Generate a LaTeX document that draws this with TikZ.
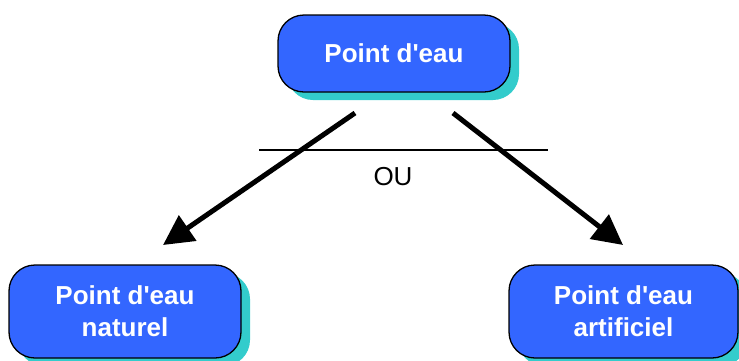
\documentclass[tikz,border=0pt]{standalone}
\usepackage{fontspec}
\setmainfont{Liberation Sans}[Ligatures=TeXOff]
\usetikzlibrary{arrows.meta,shadows}
\definecolor{boxblue}{HTML}{3366FF}
\definecolor{shadowteal}{HTML}{33CCCC}
\tikzset{
  box/.style={draw=black, line width=1.3pt, fill=boxblue, rounded corners=26pt,
    text=white, align=center, inner sep=0pt,
    font=\bfseries\fontsize{26}{32}\selectfont,
    drop shadow={shadow xshift=9pt, shadow yshift=-8pt, fill=shadowteal, opacity=1}},
  bigarrow/.style={line width=5pt, -{Triangle[length=30pt,width=30pt]}},
}
\begin{document}
\begin{tikzpicture}[x=1pt,y=-1pt]
\useasboundingbox (0,0) rectangle (739,360);
\node[box, minimum width=232pt, minimum height=77pt] (top) at (394,53.5) {Point d'eau};
\node[box, minimum width=232pt, minimum height=93pt] (nat) at (125,311.5) {Point d'eau\\naturel};
\node[box, minimum width=229pt, minimum height=93pt] (art) at (623.5,311.5) {Point d'eau\\artificiel};
\coordinate (ls) at (355,113);
\coordinate (le) at (163,245);
\coordinate (rs) at (453,113);
\coordinate (re) at (623,245);
\draw[bigarrow] (ls) -- (le);
\draw[bigarrow] (rs) -- (re);
\coordinate (h1) at (259,150);
\coordinate (h2) at (548,150);
\draw[line width=1.2pt] (h1) -- (h2);
\node[anchor=base, inner sep=0pt, font=\fontsize{26}{30}\selectfont] (ou) at (393,185) {OU};
\end{tikzpicture}
\end{document}
